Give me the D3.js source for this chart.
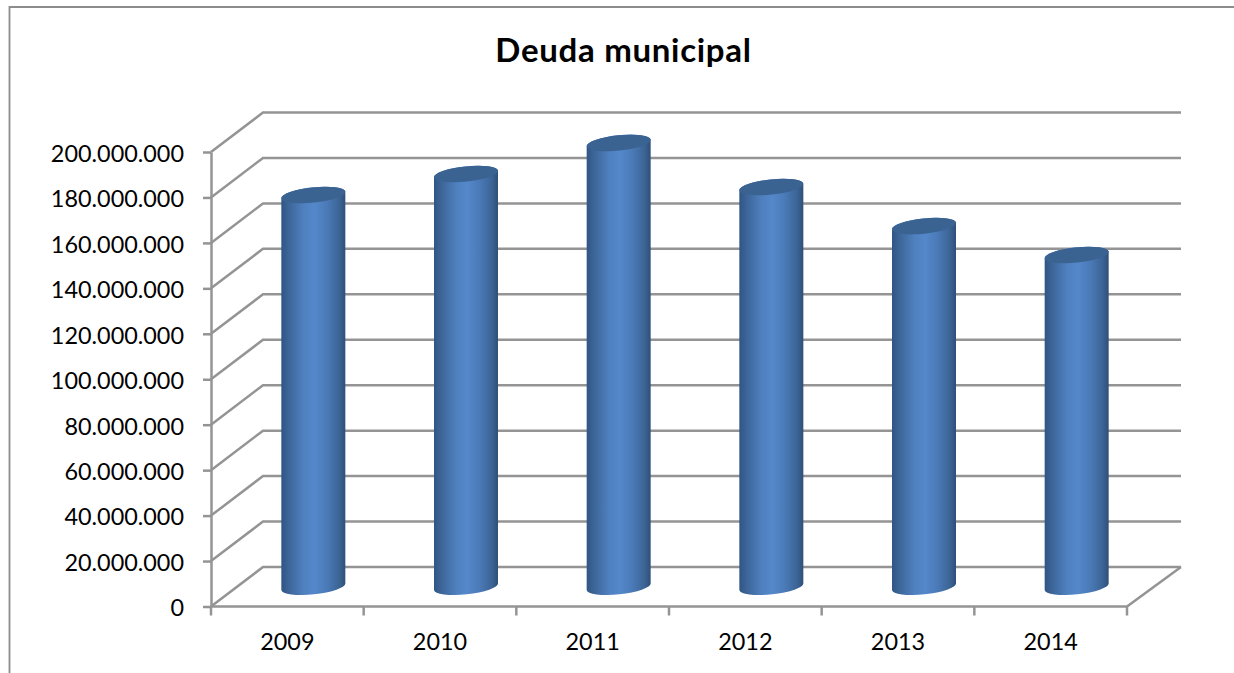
<!DOCTYPE html>
<html><head><meta charset="utf-8">
<script src="https://cdn.jsdelivr.net/npm/d3@7/dist/d3.min.js"></script>
<style>html,body{margin:0;padding:0;background:#fff}svg{display:block}</style>
</head><body><svg id="c" width="1234" height="673"></svg>
<script>
const chartTitle = "Deuda municipal";
const years = ["2009","2010","2011","2012","2013","2014"];
const deuda = [172400000,181600000,195300000,175900000,158700000,146000000];
const yTicks = [0,20000000,40000000,60000000,80000000,100000000,120000000,140000000,160000000,180000000,200000000];

const W=1234,H=673;
const x0=211,x1=1127,y0=606.5,yTop=152,dx=52,dxR=54,dy=-39.5,barW=64;
const svg=d3.select("#c");
const font="Lato, 'Open Sans', sans-serif";
const grid="#949494";
const gridW=2.5;
const labelSize=23.4;

const x=d3.scaleBand().domain(years).range([x0,x1]).paddingInner(0).paddingOuter(0);
const y=d3.scaleLinear().domain([0,200000000]).range([y0,yTop]);
const fmt=v=>d3.format(",")(v).replace(/,/g,".");

const defs=svg.append("defs");
const g=defs.append("linearGradient").attr("id","cyl").attr("x1",0).attr("x2",1).attr("y1",0).attr("y2",0);
[[0,"#2f5583"],[0.12,"#3d6699"],[0.35,"#4f80bf"],[0.52,"#5488cb"],[0.72,"#4a79b6"],[0.9,"#3c6596"],[1,"#2f5078"]]
 .forEach(s=>g.append("stop").attr("offset",s[0]).attr("stop-color",s[1]));

// frame
svg.append("path").attr("d",`M9.5,${H}V7H${W}`).attr("fill","none").attr("stroke","#8c8c8c").attr("stroke-width",1.8);

// title
svg.append("text").attr("x",623.5).attr("y",62).attr("text-anchor","middle")
 .attr("font-family",font).attr("font-weight",700).attr("font-size",33).attr("letter-spacing",0.7).attr("fill","#000").text(chartTitle);

const wall=svg.append("g").attr("fill","none").attr("stroke",grid).attr("stroke-width",gridW);
yTicks.forEach(t=>{
  const yy=y(t);
  wall.append("path").attr("d",`M${x0},${yy}L${x0+dx},${yy+dy}H${x1+dxR}`);
});
wall.append("path").attr("d",`M${x0},${y0}H${x1}L${x1+dxR},${y0+dy}`);

const ay=svg.append("g").attr("transform",`translate(${x0},0)`).call(d3.axisLeft(y).tickValues(yTicks).tickFormat(fmt).tickSize(8).tickSizeOuter(0));
ay.select(".domain").attr("stroke",grid).attr("stroke-width",gridW);
ay.selectAll(".tick line").attr("stroke",grid).attr("stroke-width",gridW);
ay.selectAll("text").attr("font-family",font).attr("font-size",labelSize).attr("fill","#000").attr("x",-27).attr("dy","0.4em");

const ax=svg.append("g").attr("transform",`translate(0,${y0})`).call(d3.axisBottom(x).tickSize(0).tickSizeOuter(0));
ax.select(".domain").remove();
ax.selectAll("text").attr("font-family",font).attr("font-size",labelSize).attr("fill","#000").attr("y",43.5).attr("dy",0);
const tk=d3.range(0,years.length+1).map(i=>x0+i*x.bandwidth());
svg.append("g").selectAll("line").data(tk).join("line").attr("x1",d=>d).attr("x2",d=>d).attr("y1",y0).attr("y2",y0+9)
 .attr("stroke",grid).attr("stroke-width",gridW);

// cylinders
const tilt=-6;
const ry=7.6, rx=barW/2;
const cy=svg.append("g");
years.forEach((yr,i)=>{
  const cx=x(yr)+x.bandwidth()/2+dx/2;
  const base=y(0)+dy/2, top=y(deuda[i])+dy/2;
  const sl=Math.tan(-tilt*Math.PI/180)*rx;
  const L=cx-rx,R=cx+rx;
  cy.append("path")
    .attr("d",`M${L},${top+sl}L${L},${base+sl}A${rx},${ry} ${tilt} 0 0 ${R},${base-sl}L${R},${top-sl}A${rx},${ry} ${tilt} 0 0 ${L},${top+sl}Z`)
    .attr("fill","url(#cyl)");
  cy.append("ellipse").attr("cx",cx).attr("cy",top).attr("rx",rx/Math.cos(tilt*Math.PI/180)).attr("ry",ry)
    .attr("transform",`rotate(${tilt} ${cx} ${top})`).attr("fill","#3b6392");
});
</script></body></html>
